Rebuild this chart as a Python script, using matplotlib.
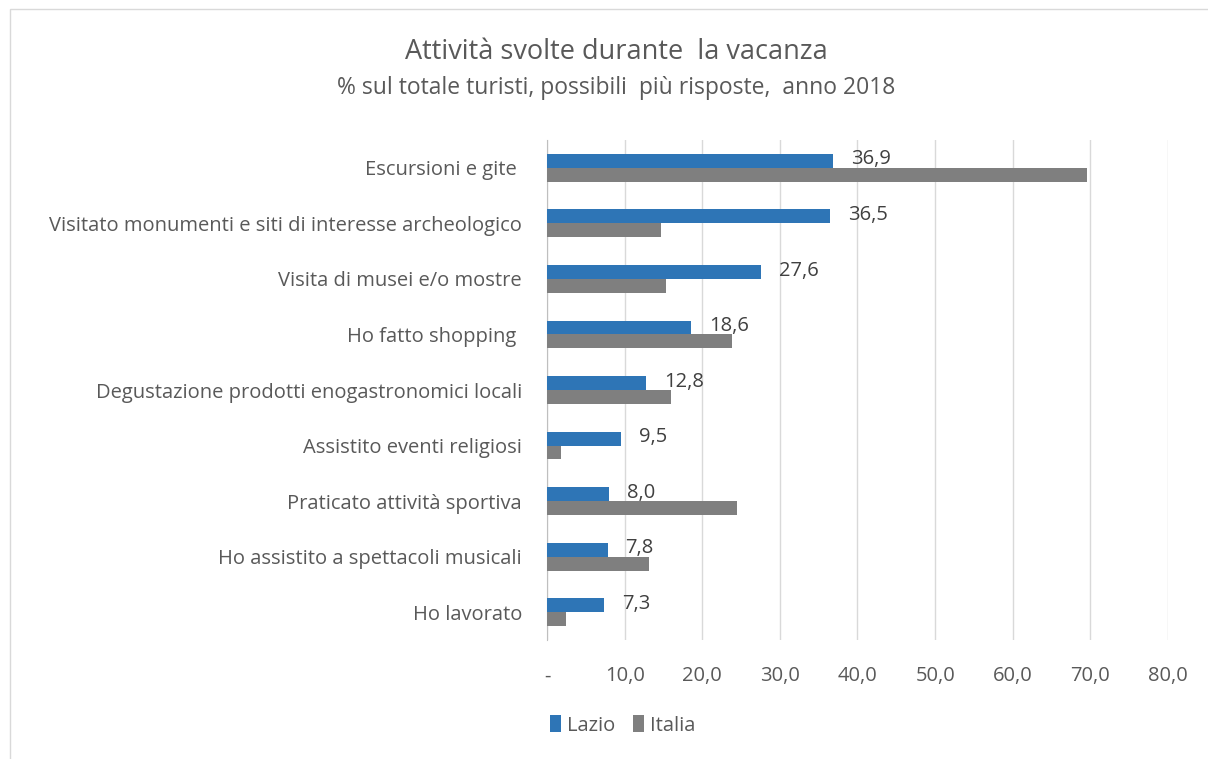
import matplotlib
matplotlib.use("Agg")
from matplotlib import pyplot as plt
from matplotlib import font_manager
from matplotlib.patches import Rectangle
import numpy as np

categories = [
    "Escursioni e gite ",
    "Visitato monumenti e siti di interesse archeologico",
    "Visita di musei e/o mostre",
    "Ho fatto shopping ",
    "Degustazione prodotti enogastronomici locali",
    "Assistito eventi religiosi",
    "Praticato attività sportiva",
    "Ho assistito a spettacoli musicali",
    "Ho lavorato",
]
lazio = [36.9, 36.5, 27.6, 18.6, 12.8, 9.5, 8.0, 7.8, 7.3]
italia = [69.5, 14.7, 15.3, 23.8, 16.0, 1.8, 24.5, 13.1, 2.5]
x_ticks = [0, 10, 20, 30, 40, 50, 60, 70, 80]
x_labels = ["-", "10,0", "20,0", "30,0", "40,0", "50,0", "60,0", "70,0", "80,0"]

# pick a narrow-ish font if available
names = {f.name for f in font_manager.fontManager.ttflist}
font = "Liberation Sans Narrow" if "Liberation Sans Narrow" in names else "Open Sans"
plt.rcParams["font.family"] = [font, "DejaVu Sans"]

txt = "#595959"
c_lazio = "#2E75B6"
c_italia = "#7F7F7F"

fig = plt.figure(figsize=(12.08, 7.59), dpi=100)
fig.patches.append(Rectangle((0.008, -0.01), 1.0, 0.998, transform=fig.transFigure,
                             fill=False, edgecolor="#D9D9D9", linewidth=1))

ax = fig.add_axes([0.4528, 0.1568, 0.5141, 0.6587])

y = np.arange(len(categories))
h = 0.25
bl = ax.barh(y - h / 2, lazio, height=h, color=c_lazio, label="Lazio", zorder=3)
bi = ax.barh(y + h / 2, italia, height=h, color=c_italia, label="Italia", zorder=3)

for yi, v in zip(y, lazio):
    ax.annotate(("%.1f" % v).replace(".", ","), (v, yi - h / 2), xytext=(13, 1),
                textcoords="offset points", ha="left", va="center",
                fontsize=14.5, color="#404040", zorder=4)

ax.set_xlim(0, 80)
ax.set_ylim(len(categories) - 0.5, -0.5)
ax.set_xticks(x_ticks)
ax.set_xticklabels(x_labels)
ax.set_yticks(y)
ax.set_yticklabels(categories)
ax.tick_params(axis="both", length=0, labelsize=14.5, labelcolor=txt)
ax.tick_params(axis="y", pad=18)
ax.tick_params(axis="x", pad=19)
ax.grid(axis="x", color="#D9D9D9", linewidth=1, zorder=0)
for s in ["top", "right", "bottom"]:
    ax.spines[s].set_visible(False)
ax.spines["left"].set_color("#BFBFBF")

fig.text(0.51, 0.932, "Attività svolte durante  la vacanza", ha="center", va="center",
         fontsize=19.5, color=txt)
fig.text(0.51, 0.884, "% sul totale turisti, possibili  più risposte,  anno 2018", ha="center",
         va="center", fontsize=16.5, color=txt)

fig.legend(handles=[bl, bi], loc="center left", bbox_to_anchor=(0.44, 0.044), ncol=2,
           frameon=False, fontsize=14.5, labelcolor=txt, handlelength=0.55,
           handleheight=0.9, handletextpad=0.3, columnspacing=0.9)

fig.savefig("out.png", dpi=100)
